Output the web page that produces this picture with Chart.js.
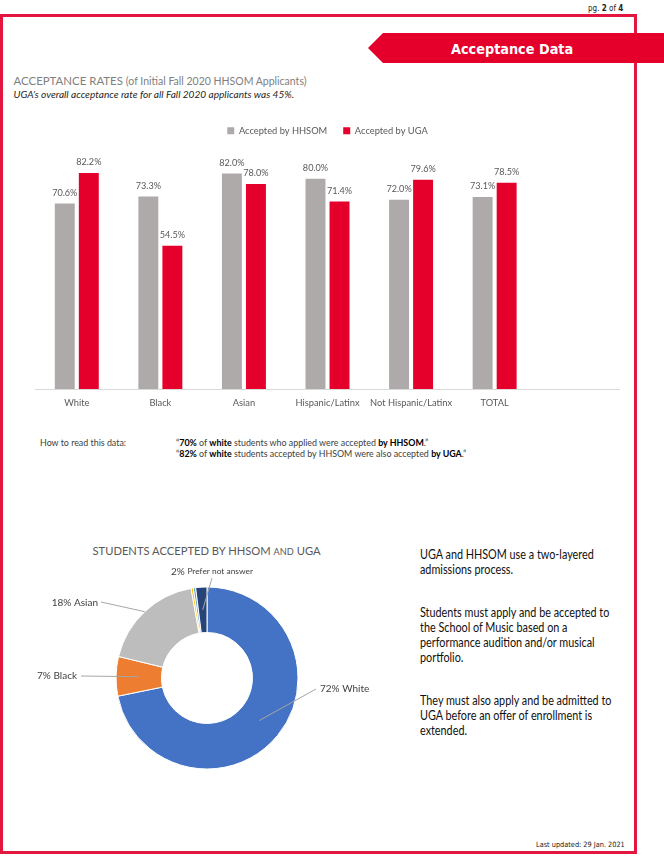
<!DOCTYPE html>
<html>
<head>
<meta charset="utf-8">
<script src="https://cdn.jsdelivr.net/npm/chart.js@4.4.0/dist/chart.umd.min.js"></script>
<style>
html,body{margin:0;padding:0;background:#fff;}
body{width:664px;height:860px;position:relative;overflow:hidden;font-family:Lato,sans-serif;}
.abs{position:absolute;white-space:nowrap;}
.tah{font-family:"DejaVu Sans Condensed","DejaVu Sans",sans-serif;font-stretch:condensed;}
#frame{position:absolute;left:0;top:14px;width:637px;height:840px;box-sizing:border-box;border:3px solid #E3163F;}
#banner{position:absolute;left:368px;top:33px;width:296px;height:30px;background:#E4002B;clip-path:polygon(15px 0,100% 0,100% 100%,15px 100%,0 50%);}
#bars{position:absolute;left:35px;top:100px;}
#donut{position:absolute;left:10px;top:560px;}
.para{position:absolute;left:420px;font-size:12.5px;line-height:15px;color:#111;white-space:nowrap;transform:scaleX(0.865);transform-origin:0 0;}
</style>
</head>
<body>
<div id="frame"></div>
<div class="abs tah" style="left:588px;top:3.7px;font-size:8px;line-height:9.6px;color:#222;">pg. <b>2</b> of <b>4</b></div>
<div id="banner"></div>
<div class="abs tah" style="left:451px;top:40.6px;font-size:14.3px;line-height:17.2px;font-weight:bold;color:#fff;">Acceptance Data</div>

<div class="abs" style="left:13.5px;top:73.7px;font-size:11.45px;line-height:13.74px;color:#808080;">ACCEPTANCE RATES <span style="font-size:10.5px;">(of Initial Fall 2020 HHSOM Applicants)</span></div>
<div class="abs" style="left:13.5px;top:87.5px;font-size:10.1px;line-height:12.12px;color:#262626;font-style:italic;">UGA’s overall acceptance rate for all Fall 2020 applicants was 45%.</div>

<canvas id="bars" width="585" height="309"></canvas>

<div class="abs" style="left:40px;top:438.2px;font-size:8.9px;line-height:10.7px;color:#404040;">How to read this data:</div>
<div class="abs" style="left:176px;top:438.2px;font-size:8.9px;line-height:10.7px;color:#404040;">“<b style="color:#000">70%</b> of <b style="color:#000">white</b> students who applied were accepted <b style="color:#000">by HHSOM</b>.”</div>
<div class="abs" style="left:176px;top:449.2px;font-size:8.9px;line-height:10.7px;color:#404040;">“<b style="color:#000">82%</b> of <b style="color:#000">white</b> students accepted by HHSOM were also accepted <b style="color:#000">by UGA</b>.”</div>

<div class="abs" style="left:92.5px;top:543.9px;font-size:11.2px;line-height:13.44px;color:#595959;">STUDENTS ACCEPTED BY HHSOM <span style="font-size:9.2px;">AND</span> UGA</div>
<canvas id="donut" width="390" height="236"></canvas>

<div class="para" style="top:546.6px;">UGA and HHSOM use a two-layered<br>admissions process.</div>
<div class="para" style="top:604.9px;">Students must apply and be accepted to<br>the School of Music based on a<br>performance audition and/or musical<br>portfolio.</div>
<div class="para" style="top:693.3px;">They must also apply and be admitted to<br>UGA before an offer of enrollment is<br>extended.</div>

<div class="abs tah" style="left:536px;top:841px;font-size:7.3px;line-height:8.8px;color:#222;">Last updated: 29 Jan. 2021</div>

<script>
// ---- data ----
const categories = ['White', 'Black', 'Asian', 'Hispanic/Latinx', 'Not Hispanic/Latinx', 'TOTAL', ''];
const acceptedByHHSOM = [70.6, 73.3, 82.0, 80.0, 72.0, 73.1, null];
const acceptedByUGA = [82.2, 54.5, 78.0, 71.4, 79.6, 78.5, null];
const rateAxisMax = 90;

const donutLabels = ['White', 'Black', 'Asian', 'Hispanic/Latinx', 'Other', 'Prefer not answer'];
const donutShares = [71.8, 7.0, 18.4, 0.4, 0.4, 2.0];
const donutColors = ['#4472C4', '#ED7D31', '#BDBDBD', '#FFC000', '#5B9BD5', '#264478'];

const FONT = 'Lato, sans-serif';
Chart.defaults.font.family = FONT;

// ---- plugins ----
const legendHeightPlugin = {
  id: 'legendHeight',
  beforeLayout(chart, args, opts) {
    const lg = chart.legend;
    if (lg && !lg._fixedH) {
      const f = lg.fit;
      lg.fit = function () { f.call(this); this.height = opts.height; };
      lg._fixedH = true;
    }
  }
};

const barValuePlugin = {
  id: 'barValues',
  afterDatasetsDraw(chart, args, opts) {
    const ctx = chart.ctx;
    ctx.save();
    ctx.font = opts.size + 'px ' + FONT;
    ctx.fillStyle = opts.color;
    ctx.textAlign = 'center';
    ctx.textBaseline = 'middle';
    chart.data.datasets.forEach((ds, i) => {
      const meta = chart.getDatasetMeta(i);
      meta.data.forEach((bar, j) => {
        const v = ds.data[j];
        if (v == null) return;
        ctx.fillText(v.toFixed(1) + '%', bar.x, bar.y - opts.offset);
      });
    });
    ctx.restore();
  }
};

const donutCalloutPlugin = {
  id: 'donutCallouts',
  afterDatasetsDraw(chart, args, opts) {
    const ctx = chart.ctx;
    const meta = chart.getDatasetMeta(0);
    const data = chart.data.datasets[0].data;
    const total = data.reduce((a, b) => a + b, 0);
    ctx.save();
    opts.items.forEach(it => {
      const arc = meta.data[it.index];
      const p = arc.getProps(['x', 'y', 'startAngle', 'endAngle', 'innerRadius', 'outerRadius'], true);
      const mid = (p.startAngle + p.endAngle) / 2;
      const r = p.innerRadius + it.depth * (p.outerRadius - p.innerRadius);
      const sx = p.x + Math.cos(mid) * r, sy = p.y + Math.sin(mid) * r;
      const ex = p.x + it.end[0], ey = p.y + it.end[1];
      ctx.strokeStyle = opts.lineColor;
      ctx.lineWidth = 1;
      ctx.beginPath(); ctx.moveTo(sx, sy); ctx.lineTo(ex, ey); ctx.stroke();
      const pct = Math.round(data[it.index] / total * 100) + '%';
      const name = chart.data.labels[it.index];
      ctx.fillStyle = opts.color;
      ctx.textBaseline = 'middle';
      const f1 = opts.size + 'px ' + FONT;
      const f2 = (it.nameSize || opts.size) + 'px ' + FONT;
      ctx.font = f1; const w1 = ctx.measureText(pct + ' ').width;
      ctx.font = f2; const w2 = ctx.measureText(name).width;
      const w = w1 + w2;
      let tx = p.x + it.text[0];
      if (it.align === 'right') tx -= w;
      else if (it.align === 'center') tx -= w / 2;
      const ty = p.y + it.text[1];
      ctx.textAlign = 'left';
      ctx.font = f1; ctx.fillText(pct + ' ', tx, ty);
      ctx.font = f2; ctx.fillText(name, tx + w1, ty);
    });
    ctx.restore();
  }
};

// ---- bar chart ----
new Chart(document.getElementById('bars'), {
  type: 'bar',
  data: {
    labels: categories,
    datasets: [
      { label: 'Accepted by HHSOM', data: acceptedByHHSOM, backgroundColor: '#AEAAAA', barPercentage: 0.83, categoryPercentage: 0.575 },
      { label: 'Accepted by UGA', data: acceptedByUGA, backgroundColor: '#E4002B', barPercentage: 0.83, categoryPercentage: 0.575 }
    ]
  },
  options: {
    responsive: false,
    animation: false,
    events: [],
    layout: { padding: { top: 10.05, left: 0, right: 0, bottom: 0 } },
    plugins: {
      legend: { labels: { boxWidth: 7, boxHeight: 7, padding: 16, color: '#595959', font: { size: 9.3 } } },
      tooltip: { enabled: false },
      legendHeight: { height: 42.45 },
      barValues: { size: 9.1, color: '#595959', offset: 10.5 }
    },
    scales: {
      x: {
        grid: { display: false, drawTicks: false },
        border: { display: true, color: '#D9D9D9', width: 1 },
        ticks: { color: '#595959', font: { size: 9.3 }, padding: 8, autoSkip: false, maxRotation: 0 },
        afterFit: s => { s.height = 20; }
      },
      y: { display: false, min: 0, max: rateAxisMax }
    }
  },
  plugins: [legendHeightPlugin, barValuePlugin]
});

// ---- doughnut ----
new Chart(document.getElementById('donut'), {
  type: 'doughnut',
  data: {
    labels: donutLabels,
    datasets: [{ data: donutShares, backgroundColor: donutColors, borderColor: '#ffffff', borderWidth: 1, hoverOffset: 0, radius: 91, cutout: '50%' }]
  },
  options: {
    responsive: false,
    animation: false,
    events: [],
    layout: { padding: { left: 106, right: 102, top: 27, bottom: 27 } },
    plugins: {
      legend: { display: false },
      tooltip: { enabled: false },
      donutCallouts: {
        color: '#404040', lineColor: '#A6A6A6', size: 10,
        items: [
          { index: 0, depth: 0.48, end: [109, 11], text: [113, 11], align: 'left' },
          { index: 1, depth: 0.5, end: [-126, -2], text: [-130, -2], align: 'right' },
          { index: 2, depth: 1.0, end: [-106, -76], text: [-109, -75], align: 'right' },
          { index: 5, depth: 0.5, end: [5, -100], text: [5, -106.3], align: 'center', nameSize: 8.4 }
        ]
      }
    }
  },
  plugins: [donutCalloutPlugin]
});
</script>
</body>
</html>
